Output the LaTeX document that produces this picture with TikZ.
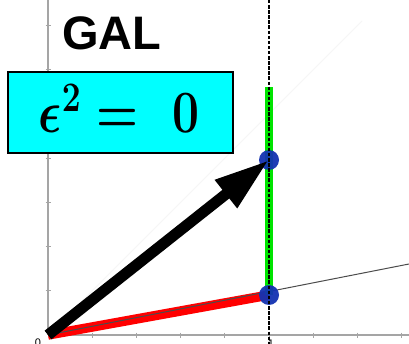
\RequirePackage{fix-cm}
\documentclass[tikz,border=0pt]{standalone}
\usepackage{fontspec}
\newfontfamily\galfont{Liberation Sans}
\usetikzlibrary{arrows.meta}
\definecolor{dotblue}{RGB}{20,50,178}
\definecolor{eqcyan}{RGB}{0,255,255}
\definecolor{vgreen}{RGB}{0,228,0}
\definecolor{axisgray}{RGB}{165,165,165}
\newcommand{\eqfont}{\fontsize{48}{50}\selectfont\mathversion{bold}}
\tikzset{
  axisline/.style={axisgray, line width=1.6pt},
  tickmark/.style={axisgray, line width=0.8pt},
  dotnode/.style={circle, fill=dotblue, fill opacity=0.95, minimum size=20pt, inner sep=0pt},
  ticklabel/.style={font=\galfont\fontsize{11}{12}\selectfont, inner sep=0pt},
}
\begin{document}
\begin{tikzpicture}[x=1pt,y=-1pt]
\useasboundingbox (0,0) rectangle (409,344);
\fill[white] (0,0) rectangle (409,344);
% key points
\coordinate (O) at (48,335);
\coordinate (P1) at (269,295);
\coordinate (P2) at (269,160);
\coordinate (Gtop) at (269,87);
\coordinate (Dtop) at (269,0);
\coordinate (Dbot) at (269,344);
\coordinate (Yend) at (48,0);
\coordinate (Xend) at (409,335);
\coordinate (Lend) at (409,264);
\coordinate (Fend) at (362,21);
% axes
\draw[axisline] (O) -- (Yend);
\draw[axisline] (O) -- (Xend);
\foreach \k in {1,...,8} \draw[tickmark] (48+44.2*\k,332.5) -- (48+44.2*\k,338);
\foreach \k in {1,...,7} \draw[tickmark] (45.5,335-44.2*\k) -- (51,335-44.2*\k);
\node[ticklabel, anchor=north] (l0) at (38,338.5) {0};
\node[ticklabel, anchor=north] (l1) at (271,340) {1};
% faint diagonal
\draw[gray!7, line width=0.8pt] (O) -- (Fend);
% red segment
\draw[red, line width=9.5pt] (O) -- (P1);
% gray line through
\draw[black!70, line width=1pt] (O) -- (Lend);
% green segment
\draw[vgreen, line width=8pt] (P1) -- (Gtop);
% dots
\node[dotnode] (d1) at (P1) {};
\node[dotnode] (d2) at (P2) {};
% dashed vertical
\draw[black, line width=2.4pt, dash pattern=on 3.5pt off 1.6pt] (Dtop) -- (Dbot);
% arrow
\draw[black, line width=11pt, -{Triangle[length=55pt,width=33pt]}] (O) -- (P2);
% title
\node[font=\galfont\bfseries\fontsize{47}{50}\selectfont, anchor=base west, inner sep=0pt] (gal) at (62,50) {GAL};
% equation box
\node[draw=black, line width=2.5pt, fill=eqcyan, minimum width=225pt, minimum height=81pt, inner sep=0pt] (box) at (120.5,112.5) {};
\node[anchor=base, inner sep=0pt, yscale=1.25, font=\eqfont] (eq) at (119,133) {$\epsilon^{2} = \mkern6mu 0$};
\end{tikzpicture}
\end{document}
